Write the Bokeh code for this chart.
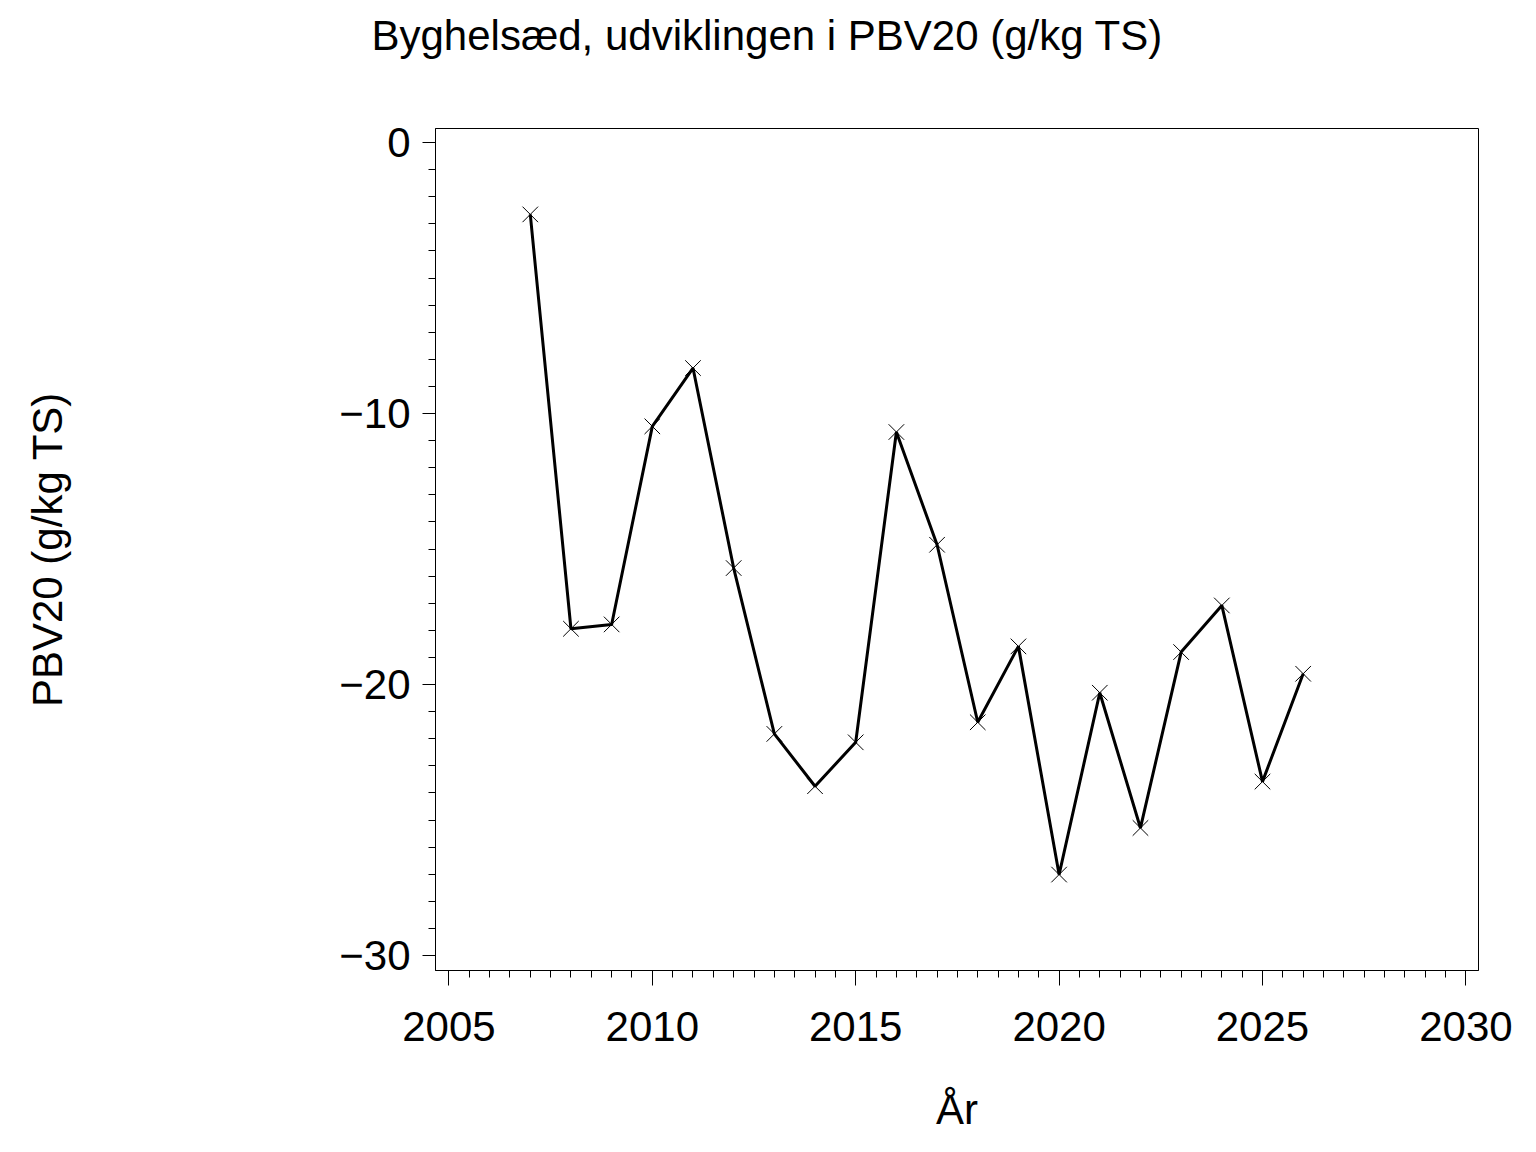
from bokeh.plotting import figure
from bokeh.layouts import column
from bokeh.models import Range1d, FixedTicker, CustomJSTickFormatter
from bokeh.embed import file_html
from bokeh.resources import INLINE

# ---- data ----
years = [2007, 2008, 2009, 2010, 2011, 2012, 2013, 2014, 2015, 2016,
         2017, 2018, 2019, 2020, 2021, 2022, 2023, 2024, 2025, 2026]
pbv20 = [-2.65, -17.94, -17.78, -10.47, -8.32, -15.70, -21.82, -23.75, -22.13, -10.68,
         -14.84, -21.39, -18.59, -27.01, -20.30, -25.29, -18.80, -17.08, -23.58, -19.60]

x_major_ticks = [2005, 2010, 2015, 2020, 2025, 2030]
x_minor_ticks = [2005 + 0.5 * i for i in range(51)]
y_major_ticks = [0, -10, -20, -30]
y_minor_ticks = list(range(-30, 1))

title_text = "Byghelsæd, udviklingen i PBV20 (g/kg TS)"
x_label = "År"
y_label = "PBV20 (g/kg TS)"

FONT = "Liberation Sans"
W = 1520
TITLE_H = 120
MAIN_H = 1032
X_RANGE = (2004.67, 2030.31)
Y_RANGE = (-30.55, 0.52)

# ---- title strip: a small figure whose own title carries the chart title ----
t = figure(width=W, height=TITLE_H, output_backend="svg", toolbar_location=None,
           x_range=Range1d(*X_RANGE), y_range=Range1d(0, 1),
           x_axis_type=None, y_axis_type=None, min_border=0)
t.outline_line_color = None
t.background_fill_color = "white"
t.border_fill_color = "white"
t.xgrid.visible = False
t.ygrid.visible = False
t.title.text = title_text
t.title.text_font = FONT
t.title.text_font_size = "42px"
t.title.text_font_style = "normal"
t.title.text_color = "black"
t.title.align = "left"
t.title.vertical_align = "top"
t.title.offset = -64
t.title.standoff = 22

# ---- main chart ----
p = figure(width=W, height=MAIN_H, output_backend="svg", toolbar_location=None,
           x_range=Range1d(*X_RANGE), y_range=Range1d(*Y_RANGE),
           min_border_left=435, min_border_right=42, min_border_top=8, min_border_bottom=182)

p.background_fill_color = "white"
p.border_fill_color = "white"
p.outline_line_color = "black"
p.outline_line_width = 1
p.xgrid.visible = False
p.ygrid.visible = False

minus_fmt = CustomJSTickFormatter(code="""
    return tick < 0 ? "\\u2212" + Math.abs(tick).toString() : tick.toString();
""")

# x axis
xa = p.xaxis[0]
xa.ticker = FixedTicker(ticks=x_major_ticks, minor_ticks=x_minor_ticks)
xa.axis_label = x_label
xa.axis_label_text_font = FONT
xa.axis_label_text_font_size = "42px"
xa.axis_label_text_font_style = "normal"
xa.axis_label_text_color = "black"
xa.axis_label_standoff = 42
xa.major_label_text_font = FONT
xa.major_label_text_font_size = "42px"
xa.major_label_text_color = "black"
xa.major_label_standoff = 26
xa.major_tick_out = 15
xa.major_tick_in = 0
xa.minor_tick_out = 7
xa.minor_tick_in = 0
xa.axis_line_color = "black"
xa.major_tick_line_color = "black"
xa.minor_tick_line_color = "black"

# y axis
ya = p.yaxis[0]
ya.ticker = FixedTicker(ticks=y_major_ticks, minor_ticks=y_minor_ticks)
ya.formatter = minus_fmt
ya.axis_label = y_label
ya.axis_label_text_font = FONT
ya.axis_label_text_font_size = "42px"
ya.axis_label_text_font_style = "normal"
ya.axis_label_text_color = "black"
ya.axis_label_standoff = 265
ya.major_label_text_font = FONT
ya.major_label_text_font_size = "42px"
ya.major_label_text_color = "black"
ya.major_label_standoff = 12
ya.major_tick_out = 13
ya.major_tick_in = 0
ya.minor_tick_out = 7
ya.minor_tick_in = 0
ya.axis_line_color = "black"
ya.major_tick_line_color = "black"
ya.minor_tick_line_color = "black"

# data
p.line(years, pbv20, line_color="black", line_width=3)
p.scatter(years, pbv20, marker="x", size=22, line_color="black", line_width=1)

layout = column(t, p, spacing=0)
open("out.html", "w").write(file_html(layout, INLINE))
